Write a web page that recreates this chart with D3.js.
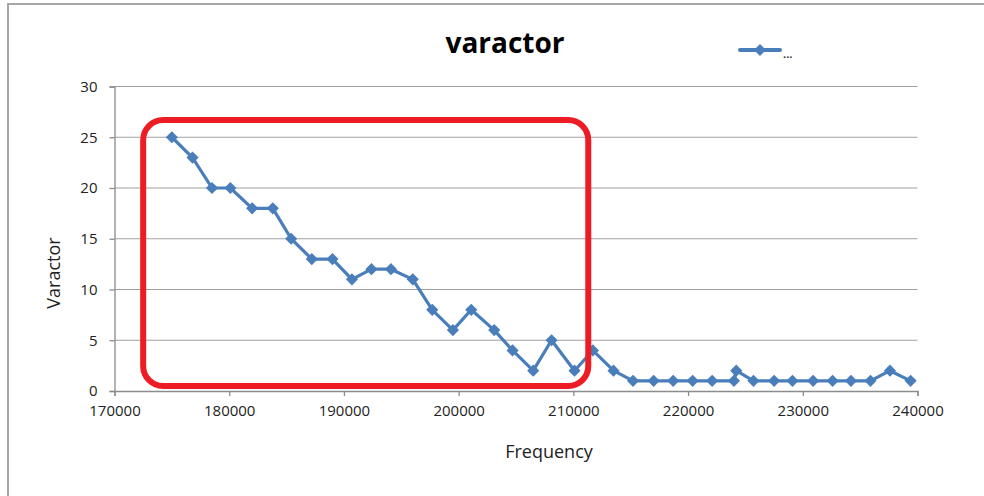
<!DOCTYPE html>
<html><head><meta charset="utf-8">
<script src="https://cdn.jsdelivr.net/npm/d3@7"></script>
<style>body{margin:0;background:#fff}svg{display:block}text{font-family:"Open Sans","Liberation Sans",sans-serif}</style>
</head><body>
<script>
const frequency = [175000,176800,178500,180100,182000,183800,185400,187200,189000,190700,192400,194100,196000,197700,199500,201100,203100,204700,206500,208100,210100,211700,213500,215200,217000,218700,220400,222100,224000,224200,225700,227500,229100,230900,232600,234200,235900,237600,239400];
const varactor  = [25,23,20,20,18,18,15,13,13,11,12,12,11,8,6,8,6,4,2,5,2,4,2,1,1,1,1,1,1,2,1,1,1,1,1,1,1,2,1];
const xTicks = [170000,180000,190000,200000,210000,220000,230000,240000];
const yTicks = [0,5,10,15,20,25,30];
const highlight = {x0:172500, x1:211300, y0:0.5, y1:26.7};

const W=984,H=496;
const svg=d3.select("body").append("svg").attr("width",W).attr("height",H);
svg.append("rect").attr("x",8).attr("y",4).attr("width",W).attr("height",H).attr("fill","#fff").attr("stroke","#a6a6a6").attr("stroke-width",2);

const x=d3.scaleLinear().domain([170000,240000]).range([114.5,917.5]);
const y=d3.scaleLinear().domain([0,30]).range([391,86.5]);

svg.append("g").selectAll("line").data(yTicks.filter(d=>d>0)).join("line")
  .attr("x1",x(170000)).attr("x2",x(240000)).attr("y1",d=>y(d)).attr("y2",d=>y(d))
  .attr("stroke","#a0a0a0").attr("stroke-width",1.2);

const ya=svg.append("g").attr("transform",`translate(${x(170000)},0)`)
  .call(d3.axisLeft(y).tickValues(yTicks).tickSize(5).tickPadding(12));
const xa=svg.append("g").attr("transform",`translate(0,${y(0)})`)
  .call(d3.axisBottom(x).tickValues(xTicks).tickSize(5).tickPadding(9).tickFormat(d3.format("d")));
[ya,xa].forEach(a=>{a.select(".domain").attr("stroke","#8c8c8c").attr("stroke-width",1.3);
  a.selectAll(".tick line").attr("stroke","#8c8c8c").attr("stroke-width",1.3);
  a.selectAll("text").attr("font-size",15).attr("fill","#222").attr("font-family","'Open Sans',sans-serif");});

const blue="#4a7ebb";
const pts=frequency.map((f,i)=>[f,varactor[i]]);
svg.append("path").datum(pts)
  .attr("d",d3.line().x(d=>x(d[0])).y(d=>y(d[1])))
  .attr("fill","none").attr("stroke",blue).attr("stroke-width",3.2).attr("stroke-linejoin","round");
const marker=d3.symbol().type(d3.symbolSquare).size(74);
svg.append("g").selectAll("path").data(pts).join("path")
  .attr("d",marker).attr("transform",d=>`translate(${x(d[0])},${y(d[1])}) rotate(45)`).attr("fill",blue);

svg.append("rect").attr("x",x(highlight.x0)).attr("y",y(highlight.y1))
  .attr("width",x(highlight.x1)-x(highlight.x0)).attr("height",y(highlight.y0)-y(highlight.y1))
  .attr("rx",20).attr("ry",20).attr("fill","none").attr("stroke","#ed1c24").attr("stroke-width",6);

svg.append("text").attr("x",505).attr("y",53).attr("text-anchor","middle")
  .attr("font-size",28).attr("font-weight","bold").attr("fill","#000").text("varactor");
svg.append("text").attr("x",549).attr("y",458).attr("text-anchor","middle").attr("font-size",18).attr("fill","#222").text("Frequency");
svg.append("text").attr("transform","translate(60,273) rotate(-90)").attr("text-anchor","middle").attr("font-size",18).attr("fill","#222").text("Varactor");

svg.append("line").attr("x1",740).attr("x2",780).attr("y1",50).attr("y2",50).attr("stroke",blue).attr("stroke-width",4).attr("stroke-linecap","round");
svg.append("path").attr("d",marker).attr("transform","translate(760,50) rotate(45)").attr("fill",blue);
svg.append("text").attr("x",783).attr("y",58).attr("font-size",11).attr("font-weight","bold").attr("fill","#333").text("...");
</script>
</body></html>
